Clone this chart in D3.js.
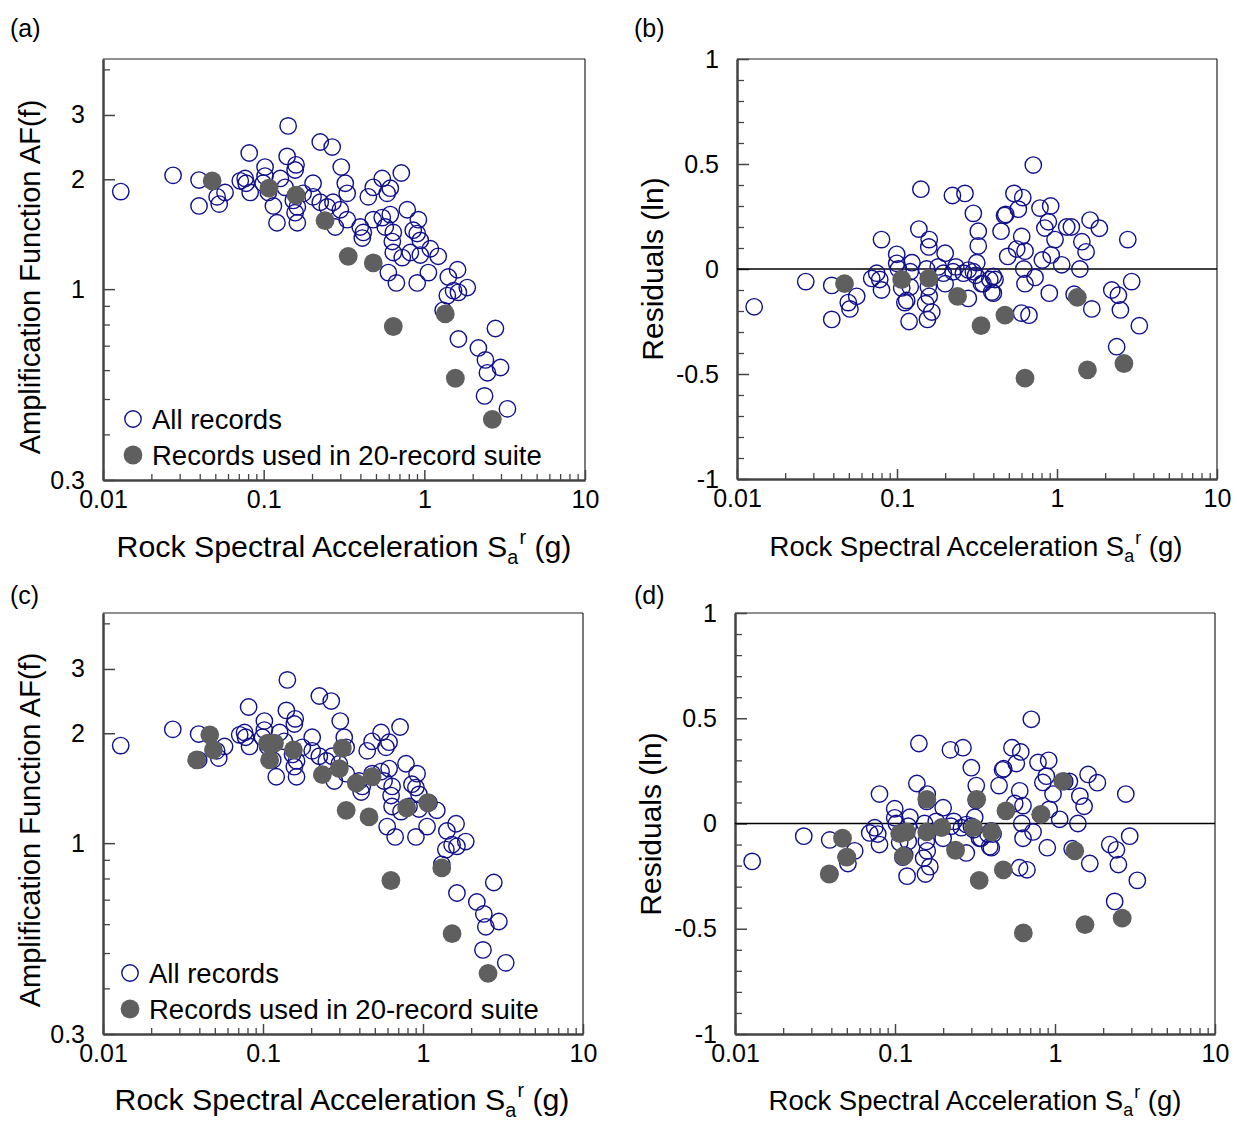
<!DOCTYPE html>
<html><head><meta charset="utf-8">
<script src="https://cdn.jsdelivr.net/npm/d3@7"></script>
<style>body{margin:0;background:#fff;} svg text{font-family:"Liberation Sans",Arial,sans-serif;fill:#000;}</style>
</head><body><svg id="chart" width="1237" height="1121"></svg>
<script>
// ---------- tick labels ----------
const xTickValues = [0.01, 0.1, 1, 10];
const xTickLabels = ["0.01", "0.1", "1", "10"];
const afTickValues = [0.3, 1, 2, 3];
const afTickLabels = ["0.3", "1", "2", "3"];
const resTickValues = [-1, -0.5, 0, 0.5, 1];
const resTickLabels = ["-1", "-0.5", "0", "0.5", "1"];
const legendLabels = ["All records", "Records used in 20-record suite"];
const panelLabels = ["(a)", "(b)", "(c)", "(d)"];

// ---------- all records: Sa (g) vs AF ----------
const allSa = [0.0129,0.0273,0.0396,0.0396,0.0513,0.0529,0.0575,0.0813,0.0715,0.0767,0.0778,0.0824,0.102,0.102,0.0993,0.107,0.115,0.121,0.127,0.140,0.142,0.159,0.157,0.136,0.153,0.162,0.157,0.162,0.176,0.203,0.203,0.225,0.225,0.267,0.249,0.279,0.304,0.322,0.331,0.300,0.331,0.270,0.481,0.448,0.547,0.614,0.587,0.719,0.399,0.417,0.411,0.481,0.547,0.614,0.571,0.641,0.632,0.641,0.597,0.670,0.783,0.918,0.853,0.903,0.944,0.818,0.944,1.09,1.22,0.729,0.903,1.06,1.41,1.61,1.52,1.85,1.39,1.63,1.31,1.63,2.77,2.17,2.40,2.98,2.47,2.37,3.29];
const allAF = [1.85,2.05,1.99,1.69,1.79,1.71,1.84,2.36,1.98,2.01,1.95,1.84,2.16,2.04,1.95,1.84,1.69,1.52,2.01,2.31,2.80,2.19,2.12,1.90,1.75,1.68,1.62,1.52,1.83,1.95,1.79,1.73,2.53,2.45,1.68,1.48,2.16,1.95,1.83,1.65,1.55,1.73,1.90,1.79,2.01,1.89,1.83,2.08,1.48,1.43,1.38,1.55,1.57,1.60,1.48,1.43,1.35,1.26,1.11,1.04,1.65,1.55,1.45,1.42,1.36,1.26,1.24,1.29,1.23,1.22,1.04,1.11,1.08,1.13,0.99,1.01,0.96,0.98,0.875,0.73,0.78,0.69,0.64,0.61,0.59,0.51,0.47];

// ---------- suite records shown in (a) ----------
const suiteASa = [0.0478,0.108,0.159,0.241,0.336,0.481,0.641,1.35,1.56,2.65];
const suiteAAF = [1.98,1.89,1.81,1.54,1.23,1.18,0.79,0.855,0.57,0.44];

// ---------- suite records shown in (c) ----------
const suiteCSa = [0.0465,0.049,0.0385,0.107,0.118,0.110,0.155,0.235,0.300,0.313,0.331,0.383,0.481,0.46,0.79,1.07,0.63,1.31,1.52,2.55];
const suiteCAF = [1.98,1.80,1.69,1.88,1.88,1.69,1.80,1.54,1.60,1.82,1.23,1.46,1.52,1.18,1.25,1.29,0.79,0.855,0.565,0.44];

// ---------- residuals of all records ----------
const resSa = [0.0128,0.0269,0.0391,0.0391,0.0496,0.0508,0.056,0.080,0.0695,0.0747,0.078,0.080,0.0996,0.0996,0.102,0.124,0.121,0.107,0.115,0.112,0.119,0.137,0.141,0.159,0.158,0.153,0.157,0.159,0.151,0.165,0.155,0.2,0.181,0.195,0.2,0.233,0.224,0.26,0.279,0.222,0.266,0.300,0.322,0.322,0.315,0.300,0.337,0.391,0.38,0.279,0.31,0.345,0.40,0.41,0.40,0.538,0.611,0.711,0.573,0.478,0.47,0.447,0.602,0.56,0.631,0.492,0.62,0.729,0.631,0.783,0.913,0.883,0.84,0.972,0.92,0.81,1.07,1.15,1.23,1.43,1.52,1.39,1.61,1.84,1.65,1.28,2.20,2.42,2.49,2.93,2.77,3.27,2.36,0.895,0.668,0.60,0.121];
const resVal = [-0.18,-0.06,-0.078,-0.24,-0.16,-0.19,-0.13,0.14,-0.045,-0.02,-0.05,-0.10,0.07,0.027,0.0,0.03,-0.013,-0.09,-0.15,-0.16,-0.25,0.19,0.38,0.14,0.105,0.0,-0.085,-0.13,-0.165,-0.205,-0.24,0.075,0.01,-0.02,-0.07,0.01,-0.013,-0.02,-0.14,0.35,0.36,0.265,0.18,0.11,0.03,-0.013,-0.07,-0.11,-0.05,-0.005,-0.03,-0.07,-0.035,-0.05,-0.115,0.36,0.34,0.495,0.285,0.26,0.255,0.18,0.155,0.095,0.085,0.06,0.0,-0.04,-0.07,0.29,0.30,0.225,0.195,0.14,0.067,0.043,0.02,0.20,0.20,0.13,0.082,0.0,0.233,0.194,-0.19,-0.12,-0.10,-0.125,-0.195,-0.06,0.14,-0.27,-0.37,-0.115,-0.22,-0.21,-0.085];

// ---------- residuals of suite records (b) ----------
const resBSa = [0.047,0.107,0.158,0.239,0.335,0.473,0.631,1.34,1.55,2.62];
const resBVal = [-0.07,-0.05,-0.045,-0.13,-0.27,-0.22,-0.52,-0.135,-0.48,-0.45];

// ---------- residuals of suite records (d) ----------
const resDSa = [0.047,0.050,0.0388,0.107,0.118,0.113,0.158,0.158,0.196,0.239,0.324,0.309,0.336,0.402,0.494,0.475,0.818,1.12,1.33,0.634,1.54,2.63];
const resDVal = [-0.07,-0.16,-0.24,-0.048,-0.04,-0.155,0.115,-0.04,-0.018,-0.127,0.115,-0.02,-0.27,-0.04,0.06,-0.22,0.043,0.20,-0.13,-0.52,-0.48,-0.45];

// ---------- drawing ----------
const svg = d3.select("#chart");
const OPEN = "#10108c", FILL = "#5f5f5f";
const zip = (a, b) => a.map((v, i) => [v, b[i]]);

const panels = [
  {lab: 0, kind: "af",  x0: 103, x1: 585, y0: 59,  y1: 480, all: zip(allSa, allAF), suite: zip(suiteASa, suiteAAF), yt: [30, 277], xt: [344, 557], tfs: 30.3, lx: 133, ly: 37},
  {lab: 1, kind: "res", x0: 737, x1: 1217, y0: 59, y1: 479, all: zip(resSa, resVal), suite: zip(resBSa, resBVal), yt: [652, 269], xt: [976, 556], tfs: 27.5, ly: 37},
  {lab: 2, kind: "af",  x0: 103, x1: 583, y0: 613, y1: 1034, all: zip(allSa, allAF), suite: zip(suiteCSa, suiteCAF), yt: [30, 830], xt: [342, 1110], tfs: 30.3, lx: 130, ly: 604},
  {lab: 3, kind: "res", x0: 735, x1: 1215, y0: 613, y1: 1034, all: zip(resSa, resVal), suite: zip(resDSa, resDVal), yt: [650, 824], xt: [975, 1110], tfs: 27.5, ly: 604}
];

function minorLog(lo, hi) {
  const out = [];
  for (let e = Math.floor(Math.log10(lo)); e <= Math.ceil(Math.log10(hi)); e++)
    for (let m = 1; m < 10; m++) { const v = m * Math.pow(10, e); if (v >= lo * 0.9999 && v <= hi * 1.0001) out.push(v); }
  return out;
}

panels.forEach(p => {
  const g = svg.append("g");
  const x = d3.scaleLog().domain([0.01, 10]).range([p.x0, p.x1]);
  const y = p.kind === "af"
    ? d3.scaleLog().domain([0.3, 4.27]).range([p.y1, p.y0])
    : d3.scaleLinear().domain([-1, 1]).range([p.y1, p.y0]);

  // frame top/right
  g.append("line").attr("x1", p.x0).attr("x2", p.x1).attr("y1", p.y0).attr("y2", p.y0).attr("stroke", "#222").attr("stroke-width", 1.2);
  g.append("line").attr("x1", p.x1).attr("x2", p.x1).attr("y1", p.y0).attr("y2", p.y1).attr("stroke", "#222").attr("stroke-width", 1.2);

  // x axis (ticks inward)
  const xMinor = minorLog(0.01, 10).filter(v => !xTickValues.includes(v));
  const gx = g.append("g").attr("transform", `translate(0,${p.y1})`);
  gx.call(d3.axisBottom(x).tickValues(xMinor).tickSize(-6).tickSizeOuter(0).tickFormat(""));
  gx.selectAll(".tick line").attr("stroke", "#444").attr("stroke-width", 1.3);
  const gxM = g.append("g").attr("transform", `translate(0,${p.y1})`);
  gxM.call(d3.axisBottom(x).tickValues(xTickValues).tickSize(-10).tickSizeOuter(0).tickFormat((d, i) => xTickLabels[i]));
  [gx, gxM].forEach(a => { a.select(".domain").attr("stroke", "#444").attr("stroke-width", 2); });
  gxM.selectAll(".tick line").attr("stroke", "#444").attr("stroke-width", 1.5);
  gxM.selectAll(".tick text").attr("font-size", 25).attr("font-family", "Liberation Sans, Arial, sans-serif").attr("fill", "#000").attr("dy", "0.71em").attr("y", 10);

  // y axis (ticks inward)
  let yMinor, yMajor, yLabels;
  if (p.kind === "af") {
    yMajor = afTickValues; yLabels = afTickLabels;
    yMinor = minorLog(0.3, 4.27).filter(v => !afTickValues.some(t => Math.abs(t - v) < 1e-9));
  } else {
    yMajor = resTickValues; yLabels = resTickLabels;
    yMinor = d3.range(-9, 10).map(k => k / 10).filter(v => Math.abs(v * 2 - Math.round(v * 2)) > 1e-9);
  }
  const gy = g.append("g").attr("transform", `translate(${p.x0},0)`);
  gy.call(d3.axisLeft(y).tickValues(yMinor).tickSize(-7).tickSizeOuter(0).tickFormat(""));
  gy.selectAll(".tick line").attr("stroke", "#444").attr("stroke-width", 1.3);
  const gyM = g.append("g").attr("transform", `translate(${p.x0},0)`);
  gyM.call(d3.axisLeft(y).tickValues(yMajor).tickSize(-12).tickSizeOuter(0).tickFormat((d, i) => yLabels[i]));
  [gy, gyM].forEach(a => a.select(".domain").attr("stroke", "#444").attr("stroke-width", 2));
  gyM.selectAll(".tick line").attr("stroke", "#444").attr("stroke-width", 1.5);
  gyM.selectAll(".tick text").attr("font-size", 25).attr("font-family", "Liberation Sans, Arial, sans-serif").attr("fill", "#000").attr("x", -18);

  if (p.kind === "res") {
    g.append("line").attr("x1", p.x0).attr("x2", p.x1).attr("y1", y(0)).attr("y2", y(0)).attr("stroke", "#000").attr("stroke-width", 1.4);
  }

  // points
  g.append("g").selectAll("circle").data(p.all).join("circle")
    .attr("cx", d => x(d[0])).attr("cy", d => y(d[1])).attr("r", 8.2)
    .attr("fill", "none").attr("stroke", OPEN).attr("stroke-width", 1.4);
  g.append("g").selectAll("circle").data(p.suite).join("circle")
    .attr("cx", d => x(d[0])).attr("cy", d => y(d[1])).attr("r", 9.4)
    .attr("fill", FILL);

  // titles
  g.append("text").attr("x", p.lab % 2 === 0 ? 10 : 634).attr("y", p.ly).attr("font-size", 25).text(panelLabels[p.lab]);
  g.append("text").attr("transform", `translate(${p.yt[0]},${p.yt[1]}) rotate(-90)`).attr("text-anchor", "middle").attr("dy", "0.35em")
    .attr("font-size", p.kind === "af" ? 29 : 30).text(p.kind === "af" ? "Amplification Function AF(f)" : "Residuals (ln)");
  const fs = p.tfs, sub = fs * 0.22, sup = fs * 0.42;
  const xt = g.append("text").attr("x", p.xt[0]).attr("y", p.xt[1]).attr("text-anchor", "middle").attr("font-size", fs);
  xt.append("tspan").text("Rock Spectral Acceleration S");
  xt.append("tspan").attr("font-size", fs * 0.65).attr("dy", sub).text("a");
  xt.append("tspan").attr("font-size", fs * 0.65).attr("dy", -(sub + sup)).attr("dx", fs * 0.04).text("r");
  xt.append("tspan").attr("dy", sup).text(" (g)");

  // legend
  if (p.kind === "af") {
    const ly1 = p.y1 - 61, ly2 = p.y1 - 25;
    g.append("circle").attr("cx", p.lx).attr("cy", ly1).attr("r", 8.2).attr("fill", "none").attr("stroke", OPEN).attr("stroke-width", 1.4);
    g.append("circle").attr("cx", p.lx).attr("cy", ly2).attr("r", 9.4).attr("fill", FILL);
    g.append("text").attr("x", p.lx + 19).attr("y", ly1).attr("dy", "0.35em").attr("font-size", 27.5).text(legendLabels[0]);
    g.append("text").attr("x", p.lx + 19).attr("y", ly2).attr("dy", "0.35em").attr("font-size", 27.5).text(legendLabels[1]);
  }
});
</script></body></html>
